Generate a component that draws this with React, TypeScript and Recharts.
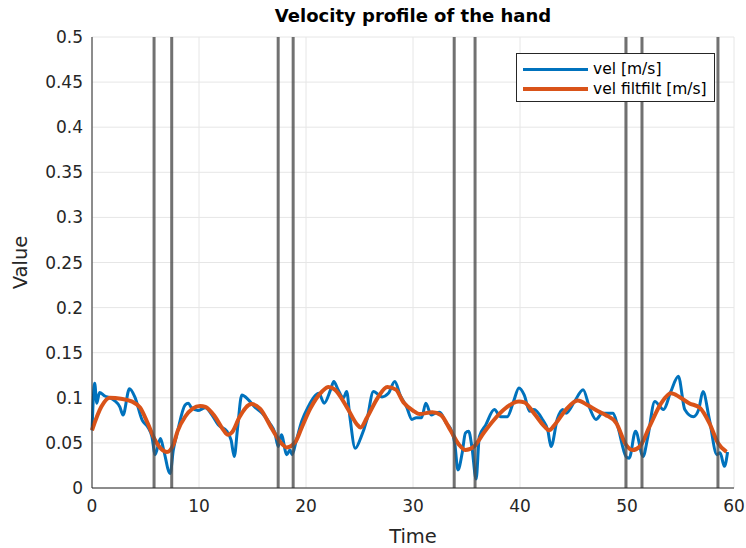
import React from 'react';
import {
  LineChart,
  Line,
  XAxis,
  YAxis,
  CartesianGrid,
  ReferenceLine,
  Legend,
} from 'recharts';

// raw hand velocity (blue), sampled off the figure
const rawTime = [
  0, 0.25, 0.45, 0.7, 1.2, 1.7, 2.1, 2.6, 2.9, 3.5, 4.0, 4.7, 5.2, 5.6, 5.9, 6.4, 6.7, 7.3, 7.6, 8.0,
  8.7, 9.0, 9.3, 9.9, 10.6, 11.2, 11.8, 12.6, 13.0, 13.3, 13.6, 14.0, 14.6, 15.2, 15.9, 16.6, 17.1,
  17.4, 17.7, 18.2, 18.5, 18.7, 19.1, 19.6, 20.2, 20.9, 21.2, 21.7, 22.3, 22.6, 23.0, 23.5, 23.8,
  24.1, 24.6, 25.1, 25.7, 26.3, 27.1, 27.7, 28.3, 28.8, 29.4, 29.9, 30.3, 30.8, 31.2, 31.7, 32.1,
  32.5, 33.1, 33.5, 33.9, 34.2, 34.6, 34.9, 35.2, 35.5, 35.9, 36.2, 36.8, 37.6, 38.2, 38.8, 39.4,
  39.9, 40.4, 40.9, 41.3, 42.1, 42.6, 42.9, 43.5, 44.0, 44.3, 45.1, 45.9, 46.5, 47.1, 47.7, 48.7,
  49.1, 49.9, 50.2, 50.8, 51.5, 51.95, 52.6, 53.4, 54.1, 54.8, 55.4, 56.2, 56.7, 57.1, 57.7, 58.4,
  58.7, 59.1, 59.4,
];
const rawVel = [
  0.064, 0.116, 0.094, 0.106, 0.102, 0.1, 0.097, 0.09, 0.081, 0.11, 0.101, 0.075, 0.068, 0.057, 0.037,
  0.055, 0.042, 0.016, 0.042, 0.063, 0.092, 0.094, 0.089, 0.086, 0.089, 0.081, 0.07, 0.063, 0.053,
  0.035, 0.066, 0.103, 0.098, 0.09, 0.083, 0.072, 0.061, 0.046, 0.059, 0.037, 0.042, 0.037, 0.053,
  0.074, 0.09, 0.103, 0.105, 0.094, 0.109, 0.118, 0.109, 0.1, 0.107, 0.079, 0.044, 0.055, 0.076,
  0.107, 0.101, 0.105, 0.118, 0.103, 0.09, 0.076, 0.078, 0.078, 0.094, 0.081, 0.083, 0.084, 0.072,
  0.066, 0.05, 0.02, 0.039, 0.061, 0.063, 0.046, 0.01, 0.057, 0.07, 0.087, 0.079, 0.079, 0.096,
  0.111, 0.103, 0.085, 0.087, 0.076, 0.064, 0.046, 0.077, 0.087, 0.083, 0.096, 0.109, 0.089, 0.076,
  0.083, 0.083, 0.07, 0.035, 0.033, 0.063, 0.035, 0.057, 0.096, 0.087, 0.107, 0.124, 0.087, 0.079,
  0.087, 0.107, 0.076, 0.037, 0.039, 0.024, 0.04,
];

// zero-phase filtered velocity (orange)
const filtTime = [
  0, 0.87, 1.65, 2.7, 3.7, 4.5, 5.2, 5.9, 6.6, 7.0, 7.6, 8.0, 8.7, 9.4, 10.1, 10.6, 11.5, 12.3, 12.7,
  13.1, 13.8, 14.9, 15.7, 16.8, 17.6, 18.2, 19.0, 19.6, 20.4, 21.5, 22.1, 22.7, 23.8, 24.8, 25.1,
  25.7, 26.7, 27.6, 28.4, 29.1, 30.1, 30.6, 31.8, 32.6, 33.5, 34.3, 34.9, 35.7, 36.6, 37.6, 38.5,
  39.9, 40.4, 41.3, 42.3, 42.7, 43.3, 44.3, 45.4, 46.3, 47.3, 48.0, 49.0, 49.9, 50.5, 51.2, 52.1,
  53.2, 54.1, 54.9, 55.8, 56.8, 57.7, 58.5, 59.3,
];
const filtVel = [
  0.064, 0.09, 0.1, 0.099, 0.096, 0.089, 0.072, 0.053, 0.042, 0.04, 0.048, 0.063, 0.079, 0.088, 0.091,
  0.09, 0.079, 0.064, 0.059, 0.062, 0.079, 0.093, 0.088, 0.066, 0.051, 0.045, 0.051, 0.067, 0.088,
  0.107, 0.112, 0.109, 0.09, 0.07, 0.067, 0.078, 0.1, 0.112, 0.109, 0.095, 0.085, 0.082, 0.084,
  0.081, 0.064, 0.048, 0.042, 0.046, 0.061, 0.076, 0.087, 0.096, 0.095, 0.083, 0.068, 0.064, 0.071,
  0.087, 0.097, 0.092, 0.085, 0.081, 0.072, 0.048, 0.042, 0.046, 0.068, 0.094, 0.105, 0.101, 0.094,
  0.089, 0.072, 0.05, 0.04,
];

// segment boundaries (grey vertical lines)
const markers = [5.8, 7.45, 17.4, 18.8, 33.85, 35.8, 49.9, 51.4, 58.5];

const xTicks = [0, 10, 20, 30, 40, 50, 60];
const yTicks = [0, 0.05, 0.1, 0.15, 0.2, 0.25, 0.3, 0.35, 0.4, 0.45, 0.5];

const rawData = rawTime.map((t, i) => ({ t, v: rawVel[i] }));
const filtData = filtTime.map((t, i) => ({ t, v: filtVel[i] }));

const BLUE = '#0072BD';
const ORANGE = '#D95319';
const FONT = '"DejaVu Sans", sans-serif';
const AXIS = '#262626';

function LegendBox() {
  const rows = [
    { color: BLUE, label: 'vel [m/s]', w: 3 },
    { color: ORANGE, label: 'vel filtfilt [m/s]', w: 4 },
  ];
  return (
    <div
      style={{
        width: 199,
        height: 49,
        border: '1px solid #262626',
        background: '#fff',
        fontFamily: FONT,
        fontSize: 15.5,
        color: '#000',
        paddingTop: 5,
        boxSizing: 'border-box',
      }}
    >
      {rows.map((r) => (
        <div key={r.label} style={{ display: 'flex', alignItems: 'center', height: 20 }}>
          <div style={{ width: 65, height: r.w, background: r.color, marginLeft: 6, marginRight: 5 }} />
          <span>{r.label}</span>
        </div>
      ))}
    </div>
  );
}

export default function App() {
  return (
    <div style={{ position: 'relative', width: 746, height: 548, background: '#fff' }}>
      <style>{'body{margin:0;overflow:hidden;}'}</style>
      <div
        style={{
          position: 'absolute',
          left: 92,
          width: 642,
          top: 5,
          textAlign: 'center',
          fontFamily: FONT,
          fontWeight: 'bold',
          fontSize: 18,
          color: '#000',
        }}
      >
        Velocity profile of the hand
      </div>
      <LineChart width={746} height={548} margin={{ top: 37, right: 12, left: 0, bottom: 0 }}>
        <CartesianGrid stroke="#e6e6e6" strokeWidth={1} />
        <XAxis
          dataKey="t"
          type="number"
          domain={[0, 60]}
          ticks={xTicks}
          allowDuplicatedCategory={false}
          height={60}
          tickLine={false}
          tickSize={0}
          tickMargin={12}
          stroke={AXIS}
          tick={{ fill: AXIS, fontSize: 17, fontFamily: FONT }}
          label={{
            value: 'Time',
            position: 'insideBottom',
            offset: 5,
            style: { fontSize: 19.5, fontFamily: FONT, fill: AXIS },
          }}
        />
        <XAxis
          xAxisId="top"
          orientation="top"
          type="number"
          domain={[0, 60]}
          ticks={xTicks}
          height={0}
          mirror
          tickSize={5}
          stroke={AXIS}
          tick={() => <g />}
        />
        <YAxis
          type="number"
          domain={[0, 0.5]}
          ticks={yTicks}
          width={92}
          tickLine={false}
          tickSize={0}
          tickMargin={9}
          stroke={AXIS}
          tickFormatter={(v: number) => String(Number(v.toFixed(2)))}
          tick={{ fill: AXIS, fontSize: 17, fontFamily: FONT }}
          label={{
            value: 'Value',
            angle: -90,
            position: 'insideLeft',
            offset: 20,
            style: { fontSize: 19.5, fontFamily: FONT, fill: AXIS, textAnchor: 'middle' },
          }}
        />
        <YAxis
          yAxisId="right"
          orientation="right"
          type="number"
          domain={[0, 0.5]}
          ticks={yTicks}
          width={0}
          mirror
          tickSize={5}
          stroke={AXIS}
          tick={() => <g />}
        />
        <Line
          data={rawData}
          dataKey="v"
          name="vel [m/s]"
          type="monotone"
          stroke={BLUE}
          strokeWidth={3}
          dot={false}
          activeDot={false}
          isAnimationActive={false}
        />
        <Line
          data={filtData}
          dataKey="v"
          name="vel filtfilt [m/s]"
          type="monotone"
          stroke={ORANGE}
          strokeWidth={4}
          dot={false}
          activeDot={false}
          isAnimationActive={false}
        />
        {markers.map((m) => (
          <ReferenceLine key={m} x={m} stroke="#4d4d4d" strokeOpacity={0.8} strokeWidth={3} />
        ))}
        <Legend
          layout="vertical"
          align="center"
          verticalAlign="middle"
          wrapperStyle={{ position: 'absolute', left: 516, top: 53, width: 200, height: 50 }}
          content={() => <LegendBox />}
        />
      </LineChart>
    </div>
  );
}
